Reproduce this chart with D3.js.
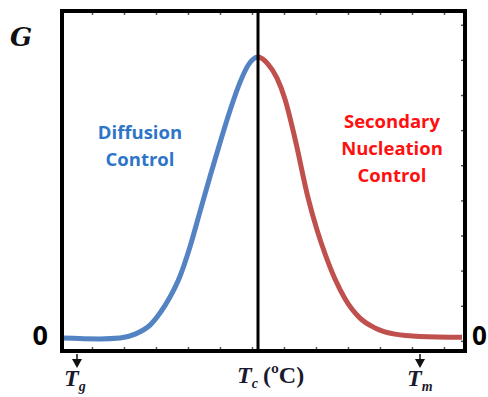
<!DOCTYPE html>
<html>
<head>
<meta charset="utf-8">
<script src="https://cdn.jsdelivr.net/npm/d3@7"></script>
<style>
  body { margin: 0; background: #fff; }
  svg { display: block; }
</style>
</head>
<body>
<svg id="chart"></svg>
<script>
const width = 488;
const height = 397;

// temperature in arbitrary units, G in % of peak
const blueT = [0, 38, 58, 73, 88, 98, 108, 118, 128, 138, 148, 158, 168, 178, 186, 196];
const blueG = [0, -0.3, 0, 1.4, 4.6, 8.9, 14.6, 22, 32.5, 45, 57.5, 69.5, 81, 91, 97, 100];
const redT = [196, 206, 215, 223, 233, 246, 255, 263, 273, 283, 298, 313, 333, 358, 400];
const redG = [100, 97.5, 92.5, 85, 71, 50, 38.5, 30, 21, 14, 7.1, 3.6, 1.4, 0.6, 0.3];

const Tg = 15, Tc = 196, Tm = 358;
const xTicks = [30, 62, 94, 126, 158, 190, 222, 254, 286, 318, 350, 382];
const yTicks = [-1, 11.5, 24, 36.5, 49, 61.5, 74, 86.5, 99, 111.5];

const padLeft = 62, padRight = 465, padTop = 11, padBottom = 351;

const svg = d3.select('#chart')
  .attr('width', width)
  .attr('height', height)

const x = d3.scaleLinear().domain([0, 403]).range([padLeft, padRight])
const y = d3.scaleLinear().domain([-4.6, 116.4]).range([padBottom, padTop])

// tick marks inside the frame
const bottomAxis = d3.axisBottom(x).tickValues(xTicks).tickSize(-4).tickFormat('')
const topAxis = d3.axisTop(x).tickValues(xTicks).tickSize(-4).tickFormat('')
const rightAxis = d3.axisRight(y).tickValues(yTicks).tickSize(-4).tickFormat('')

svg.append('g').attr('transform', `translate(0,${padBottom})`).call(bottomAxis)
svg.append('g').attr('transform', `translate(0,${padTop})`).call(topAxis)
svg.append('g').attr('transform', `translate(${padRight},0)`).call(rightAxis)
svg.selectAll('.domain').remove()
svg.selectAll('.tick line').attr('stroke', '#555').attr('stroke-width', 1.5)

const line = d3.line()
  .x(d => x(d[0]))
  .y(d => y(d[1]))
  .curve(d3.curveMonotoneX)

// one smooth curve, coloured blue left of Tc and red right of it
const allPts = blueT.map((t, i) => [t, blueG[i]])
  .concat(redT.slice(1).map((t, i) => [t, redG[i + 1]]))

const defs = svg.append('defs')
defs.append('clipPath').attr('id', 'clipL')
  .append('rect').attr('x', 0).attr('y', 0).attr('width', x(Tc)).attr('height', height)
defs.append('clipPath').attr('id', 'clipR')
  .append('rect').attr('x', x(Tc)).attr('y', 0).attr('width', width).attr('height', height)

svg.append('path')
  .datum(allPts)
  .attr('d', line)
  .attr('clip-path', 'url(#clipL)')
  .attr('fill', 'none')
  .attr('stroke', '#5383c3')
  .attr('stroke-width', 5)

svg.append('path')
  .datum(allPts)
  .attr('d', line)
  .attr('clip-path', 'url(#clipR)')
  .attr('fill', 'none')
  .attr('stroke', '#c0504d')
  .attr('stroke-width', 5)

// Tc vertical line
svg.append('line')
  .attr('x1', x(Tc)).attr('x2', x(Tc))
  .attr('y1', padTop).attr('y2', padBottom)
  .attr('stroke', '#000')
  .attr('stroke-width', 3)

// frame
svg.append('rect')
  .attr('x', padLeft).attr('y', padTop)
  .attr('width', padRight - padLeft).attr('height', padBottom - padTop)
  .attr('fill', 'none')
  .attr('stroke', '#000')
  .attr('stroke-width', 4)

// labels
svg.append('text')
  .attr('x', 10).attr('y', 46)
  .attr('font-family', 'DejaVu Serif, serif')
  .attr('font-style', 'italic')
  .attr('font-weight', 'bold')
  .attr('font-size', 26)
  .attr('fill', '#111')
  .text('G')

svg.append('text')
  .attr('x', 48).attr('y', 345)
  .attr('text-anchor', 'end')
  .attr('font-family', 'Open Sans, sans-serif')
  .attr('font-weight', 'bold')
  .attr('font-size', 27)
  .text('0')

svg.append('text')
  .attr('x', 472).attr('y', 345)
  .attr('font-family', 'Open Sans, sans-serif')
  .attr('font-weight', 'bold')
  .attr('font-size', 26)
  .text('0')

const textFont = 'Open Sans, sans-serif'
const blueLines = ['Diffusion', 'Control']
blueLines.forEach((s, i) => {
  svg.append('text')
    .attr('x', 140).attr('y', 139 + i * 27)
    .attr('text-anchor', 'middle')
    .attr('font-family', textFont)
    .attr('font-weight', 'bold')
    .attr('font-size', 18.5)
    .attr('fill', '#2e75c8')
    .text(s)
})

const redLines = ['Secondary', 'Nucleation', 'Control']
redLines.forEach((s, i) => {
  svg.append('text')
    .attr('x', 392).attr('y', 128 + i * 27)
    .attr('text-anchor', 'middle')
    .attr('font-family', textFont)
    .attr('font-weight', 'bold')
    .attr('font-size', 18.5)
    .attr('fill', '#ff1010')
    .text(s)
})

// temperature markers below the axis
function marker(t, sub, extra, arrow) {
  const px = x(t)
  if (arrow) {
    svg.append('line')
      .attr('x1', px).attr('x2', px)
      .attr('y1', padBottom + 3).attr('y2', padBottom + 10)
      .attr('stroke', '#111').attr('stroke-width', 1.5)
    svg.append('path')
      .attr('d', `M${px - 5},${padBottom + 8}L${px + 5},${padBottom + 8}L${px},${padBottom + 17}Z`)
      .attr('fill', '#111')
  }
  const txt = svg.append('text')
    .attr('x', arrow ? px - 13 : px - 21)
    .attr('y', arrow ? padBottom + 35 : padBottom + 32)
    .attr('font-family', 'Liberation Serif, serif')
    .attr('font-weight', 'bold')
    .attr('font-size', 24)
    .attr('fill', '#1a1a2e')
  txt.append('tspan').attr('font-style', 'italic').text('T')
  txt.append('tspan').attr('font-style', 'italic').attr('font-size', 14).attr('dy', 5).text(sub)
  if (extra) txt.append('tspan').attr('dy', -5).attr('dx', 5).text(extra)
}
marker(Tg, 'g', null, true)
marker(Tc, 'c', '(ºC)', false)
marker(Tm, 'm', null, true)
</script>
</body>
</html>
